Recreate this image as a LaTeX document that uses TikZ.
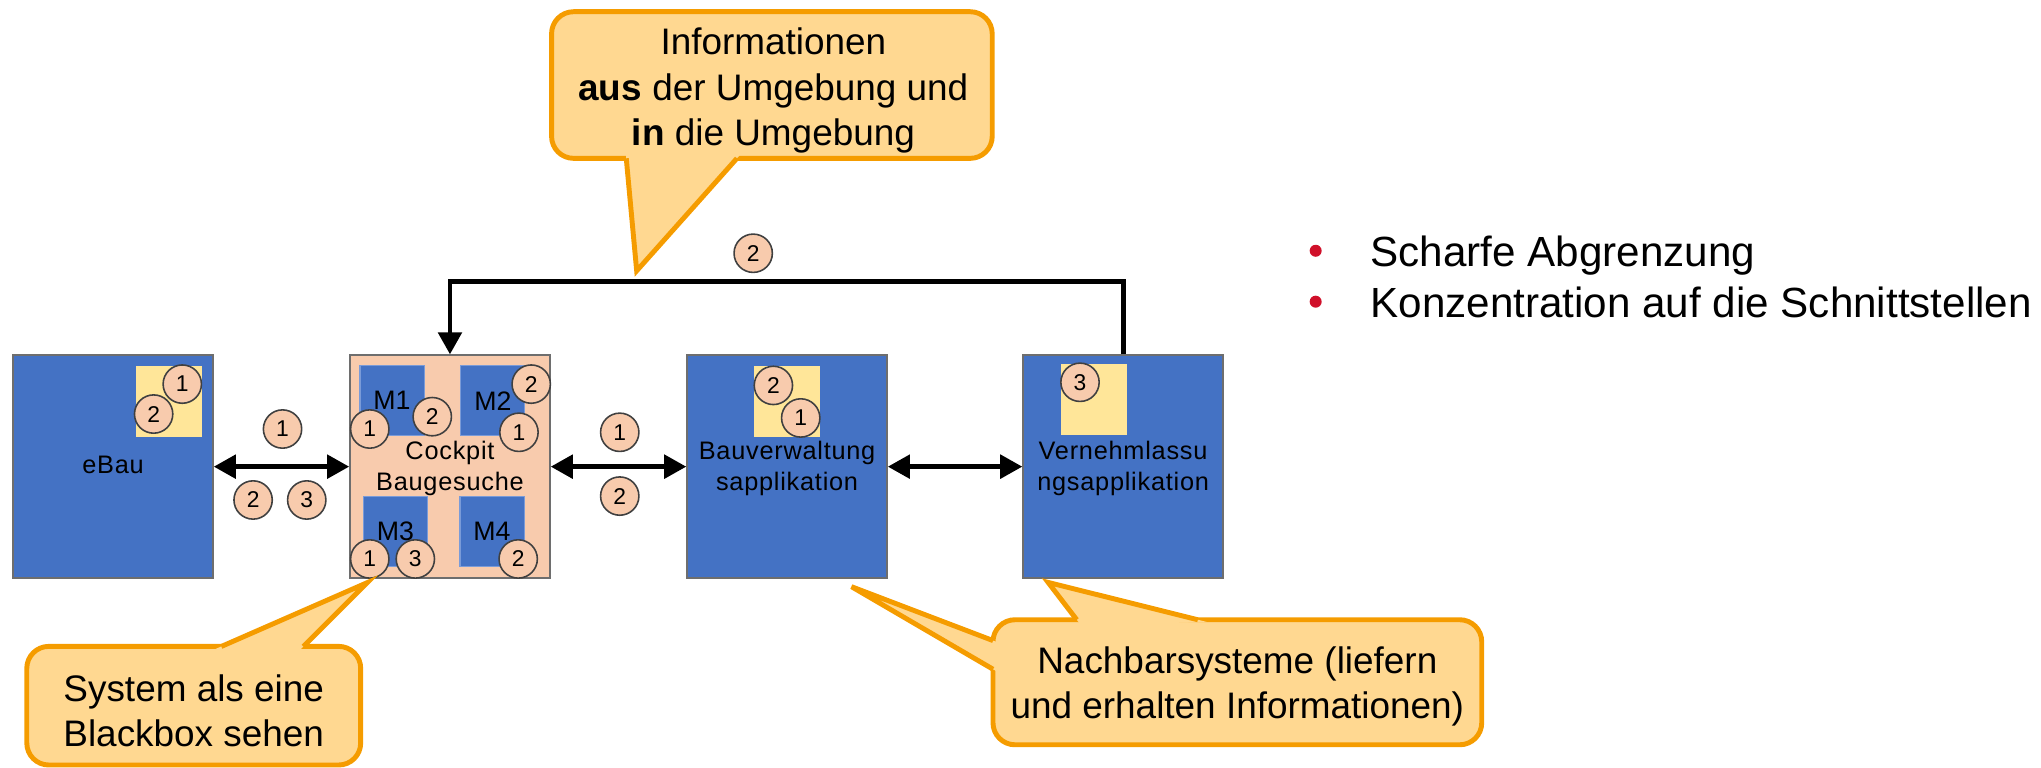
\documentclass[tikz,border=0pt]{standalone}
\usepackage{fontspec}
\setmainfont{Liberation Sans}
\usetikzlibrary{arrows.meta,calc}
\definecolor{boxblue}{HTML}{4472C4}
\definecolor{peach}{HTML}{F8CBAD}
\definecolor{insety}{HTML}{FFE699}
\definecolor{calfill}{HTML}{FFD891}
\definecolor{calline}{HTML}{F59C00}
\definecolor{bulred}{HTML}{D0102A}
\definecolor{boxedge}{HTML}{6E6E6E}
\definecolor{modedge}{HTML}{7A9BD8}
\tikzset{
  sysbox/.style={draw=boxedge, line width=0.4pt, fill=boxblue, minimum width=2cm, minimum height=2.23cm, inner sep=0pt},
  cockpitbox/.style={sysbox, fill=peach},
  insetbox/.style={fill=insety, minimum width=0.66cm, minimum height=0.71cm, inner sep=0pt},
  modbox/.style={fill=boxblue, draw=modedge, line width=0.3pt, minimum width=0.64cm, minimum height=0.70cm, inner sep=0pt, font=\fontsize{7.6}{9}\selectfont},
  numc/.style={circle, draw=black!75, line width=0.45pt, fill=peach, minimum size=0.383cm, inner sep=0pt, font=\fontsize{6.5}{7}\selectfont},
  boxlbl/.style={align=center, font=\fontsize{7.2}{9.04}\selectfont\addfontfeatures{LetterSpace=3}, inner sep=0pt},
  conn/.style={line width=1.4pt, draw=black},
  biarrow/.style={conn, {Triangle[length=6.3pt,width=6.6pt]}-{Triangle[length=6.3pt,width=6.6pt]}},
  onearrow/.style={conn, -{Triangle[length=6.3pt,width=6.6pt]}},
  calbox/.style={draw=calline, fill=calfill, line width=1.4pt, rounded corners=0.22cm, inner sep=0pt},
  calside/.style={draw=calline, line width=1.4pt, line join=miter},
  caltext/.style={align=center, font=\fontsize{10.5}{12.9}\selectfont, inner sep=0pt},
  bultext/.style={anchor=base west, font=\fontsize{12}{14}\selectfont, inner sep=0pt},
  buldot/.style={circle, fill=bulred, minimum size=0.12cm, inner sep=0pt}
}
\begin{document}
\begin{tikzpicture}[x=0.01302cm, y=-0.01302cm]
\useasboundingbox (0,0) rectangle (1567.6,589.1);

% main boxes
\node[sysbox] (ebau) at (86.8,358.4) {};
\node[cockpitbox] (cockpit) at (345.6,358.4) {};
\node[sysbox] (bauv) at (604.5,358.4) {};
\node[sysbox] (vern) at (862.6,358.4) {};

% insets
\node[insetbox] (ebauin) at (129.5,308.2) {};
\node[insetbox] (bauvin) at (604.2,308.4) {};
\node[insetbox] (vernin) at (840,306.8) {};

% modules
\node[modbox] (m1) at (301.1,307.8) {M1};
\node[modbox] (m2) at (378.5,307.8) {M2};
\node[modbox] (m3) at (303.8,408.4) {M3};
\node[modbox] (m4) at (377.9,408.4) {M4};

% labels
\node[boxlbl] (ebaulbl) at (86.8,357) {eBau};
\node[boxlbl] (cocklbl) at (345.6,359.8) {Cockpit\\Baugesuche};
\node[boxlbl] (bauvlbl) at (604.5,359.8) {Bauverwaltung\\sapplikation};
\node[boxlbl] (vernlbl) at (862.6,359.8) {Vernehmlassu\\ngsapplikation};

% connectors
\draw[biarrow] (ebau.east) -- (cockpit.west);
\draw[biarrow] (cockpit.east) -- (bauv.west);
\draw[biarrow] (bauv.east) -- (vern.west);
\coordinate (topy) at (600,216.4);
\draw[onearrow] (vern.north) -- (vern.north |- topy) -| (cockpit.north);

% number circles
\node[numc] (e1) at (140,295) {1};
\node[numc] (e2) at (118,318) {2};
\node[numc] (ec1) at (217,329.5) {1};
\node[numc] (ec2) at (194.4,384) {2};
\node[numc] (ec3) at (235.6,384) {3};
\node[numc] (m1a) at (284,329.5) {1};
\node[numc] (m1b) at (332,320) {2};
\node[numc] (m2a) at (408,295) {2};
\node[numc] (m2b) at (398.6,332) {1};
\node[numc] (m3a) at (284,429.3) {1};
\node[numc] (m3b) at (319,429.3) {3};
\node[numc] (m4a) at (398,429.3) {2};
\node[numc] (cb1) at (476,332) {1};
\node[numc] (cb2) at (476,381) {2};
\node[numc] (b2) at (594,296) {2};
\node[numc] (b1) at (615,321) {1};
\node[numc] (v3) at (829.5,293.6) {3};
\node[numc] (t2) at (578.5,194.5) {2};

% callout top
\node[calbox, minimum width=4.405cm, minimum height=1.466cm] (cal1) at (592.85,65.3) {};
\coordinate (c1a) at (481,121.6);
\coordinate (c1b) at (566,121.6);
\coordinate (c1t) at (489,208);
\fill[calfill] ($(c1a)!-0.1!(c1t)$) -- (c1t) -- ($(c1b)!-0.1!(c1t)$) -- cycle;
\draw[calside] (c1a) -- (c1t) -- (c1b);
\node[caltext] (cal1txt) at (594,69.5) {Informationen\\\textbf{aus} der Umgebung und\\\textbf{in} die Umgebung};

% callout bottom left
\node[calbox, minimum width=3.338cm, minimum height=1.186cm] (cal2) at (148.8,542) {};
\coordinate (c2a) at (170,496.5);
\coordinate (c2b) at (233,496.5);
\coordinate (c2t) at (282,447.5);
\fill[calfill] ($(c2a)!-0.1!(c2t)$) -- (c2t) -- ($(c2b)!-0.1!(c2t)$) -- cycle;
\draw[calside] (c2a) -- (c2t) -- (c2b);
\node[caltext] (cal2txt) at (148.8,546) {System als eine\\Blackbox sehen};

% callout bottom right
\node[calbox, minimum width=4.886cm, minimum height=1.25cm] (cal3) at (950.35,524) {};
\coordinate (c3a) at (762.7,492);
\coordinate (c3b) at (762.7,514);
\coordinate (c3t) at (654,450.6);
\fill[calfill] ($(c3a)!-0.06!(c3t)$) -- (c3t) -- ($(c3b)!-0.06!(c3t)$) -- cycle;
\draw[calside] (c3a) -- (c3t) -- (c3b);
\coordinate (c4a) at (827,476);
\coordinate (c4b) at (920,476);
\coordinate (c4t) at (805,447.3);
\fill[calfill] ($(c4a)!-0.15!(c4t)$) -- (c4t) -- ($(c4b)!-0.06!(c4t)$) -- cycle;
\draw[calside] (c4a) -- (c4t) -- (c4b);
\node[caltext] (cal3txt) at (950.35,527) {Nachbarsysteme (liefern\\und erhalten Informationen)};

% bullets
\node[buldot] (bd1) at (1010.5,192.6) {};
\node[buldot] (bd2) at (1010.5,231.7) {};
\node[bultext] (bt1) at (1052,204.8) {Scharfe Abgrenzung};
\node[bultext] (bt2) at (1052,243.9) {Konzentration auf die Schnittstellen};
\end{tikzpicture}
\end{document}
